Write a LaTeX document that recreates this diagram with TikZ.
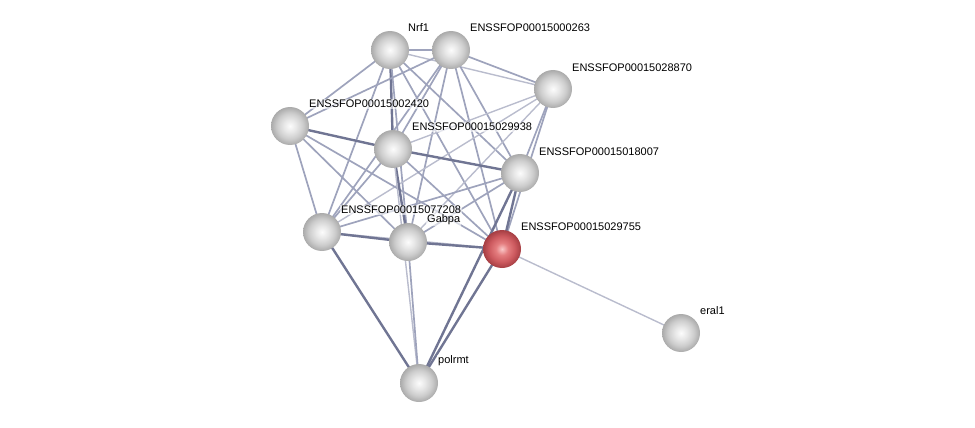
\documentclass[tikz,border=0pt]{standalone}
\usepackage{fontspec}
\setmainfont{Liberation Sans}
\definecolor{elight}{RGB}{185,188,205}
\definecolor{emid}{RGB}{158,163,188}
\definecolor{edark}{RGB}{112,117,147}
\definecolor{gA}{RGB}{252,252,252}
\definecolor{gB}{RGB}{232,232,232}
\definecolor{gC}{RGB}{205,205,205}
\definecolor{gD}{RGB}{170,170,170}
\definecolor{rA}{RGB}{250,200,200}
\definecolor{rB}{RGB}{228,125,127}
\definecolor{rC}{RGB}{205,90,95}
\definecolor{rD}{RGB}{165,62,67}
\pgfdeclareradialshading{greysphere}{\pgfpoint{0bp}{0bp}}{color(0bp)=(gA); color(8bp)=(gB); color(17bp)=(gC); color(25bp)=(gD); color(50bp)=(gD)}
\pgfdeclareradialshading{redsphere}{\pgfpoint{0bp}{0bp}}{color(0bp)=(rA); color(8bp)=(rB); color(17bp)=(rC); color(25bp)=(rD); color(50bp)=(rD)}
\tikzset{
  prot/.style={circle,minimum size=38pt,inner sep=0pt,shading=greysphere,draw=none},
  protred/.style={circle,minimum size=38pt,inner sep=0pt,shading=redsphere,draw=none},
  lab/.style={anchor=west,inner sep=1pt,fill=white,fill opacity=0.6,text opacity=1,font=\fontsize{11}{13}\selectfont},
  lt/.style={draw=elight,line width=1.4pt},
  md/.style={draw=emid,line width=1.7pt},
  dk/.style={draw=edark,line width=2.4pt},
}
\begin{document}
\begin{tikzpicture}[x=1pt,y=-1pt]
\useasboundingbox (0,0) rectangle (975,428);
% node coordinates
\coordinate (nrf) at (390,50);
\coordinate (a263) at (451,50);
\coordinate (a870) at (553,89);
\coordinate (a420) at (290,126);
\coordinate (a938) at (393,149);
\coordinate (a007) at (520,173);
\coordinate (a208) at (322,232);
\coordinate (gab) at (408,242);
\coordinate (a755) at (502,249);
\coordinate (eral) at (681,333);
\coordinate (pol) at (419,383);
% edges
\draw[md] (nrf) -- (a263);
\draw[lt] (nrf) -- (a870);
\draw[md] (nrf) -- (a420);
\draw[dk] (nrf) -- (a938);
\draw[md] (nrf) -- (a208);
\draw[md] (nrf) -- (gab);
\draw[md] (nrf) -- (a755);
\draw[md] (nrf) -- (a007);
\draw[md] (a263) -- (a420);
\draw[md] (a263) -- (a938);
\draw[md] (a263) -- (a208);
\draw[md] (a263) -- (gab);
\draw[md] (a263) -- (a007);
\draw[md] (a263) -- (a755);
\draw[md] (a263) -- (a870);
\draw[lt] (a870) -- (a938);
\draw[lt] (a870) -- (a208);
\draw[lt] (a870) -- (gab);
\draw[md] (a870) -- (a007);
\draw[md] (a870) -- (a755);
\draw[dk] (a420) -- (a938);
\draw[md] (a420) -- (a208);
\draw[md] (a420) -- (gab);
\draw[md] (a420) -- (a755);
\draw[dk] (a938) -- (a007);
\draw[md] (a938) -- (a208);
\draw[dk] (a938) -- (gab);
\draw[md] (a938) -- (a755);
\draw[lt] (a938) -- (pol);
\draw[md] (a007) -- (a208);
\draw[md] (a007) -- (gab);
\draw[dk] (a007) -- (a755);
\draw[dk] (a007) -- (pol);
\draw[lt] (a208) -- (a755);
\draw[dk] (a208) -- (gab);
\draw[dk] (a208) -- (pol);
\draw[dk] (gab) -- (a755);
\draw[md] (gab) -- (pol);
\draw[dk] (a755) -- (pol);
\draw[lt] (a755) -- (eral);
% nodes
\node[prot] (Nnrf) at (nrf) {};
\node[prot] (N263) at (a263) {};
\node[prot] (N870) at (a870) {};
\node[prot] (N420) at (a420) {};
\node[prot] (N938) at (a938) {};
\node[prot] (N007) at (a007) {};
\node[prot] (N208) at (a208) {};
\node[prot] (Ngab) at (gab) {};
\node[protred] (N755) at (a755) {};
\node[prot] (Neral) at (eral) {};
\node[prot] (Npol) at (pol) {};
% labels
\node[lab] (Lnrf) at (407,28) {Nrf1};
\node[lab] (L263) at (469,28) {ENSSFOP00015000263};
\node[lab] (L870) at (571,68) {ENSSFOP00015028870};
\node[lab] (L420) at (308,104) {ENSSFOP00015002420};
\node[lab] (L938) at (411,127) {ENSSFOP00015029938};
\node[lab] (L007) at (538,152) {ENSSFOP00015018007};
\node[lab] (L208) at (340,210) {ENSSFOP00015077208};
\node[lab] (Lgab) at (426,220) {Gabpa};
\node[lab] (L755) at (520,227) {ENSSFOP00015029755};
\node[lab] (Leral) at (699,311) {eral1};
\node[lab] (Lpol) at (437,361) {polrmt};
\end{tikzpicture}
\end{document}
